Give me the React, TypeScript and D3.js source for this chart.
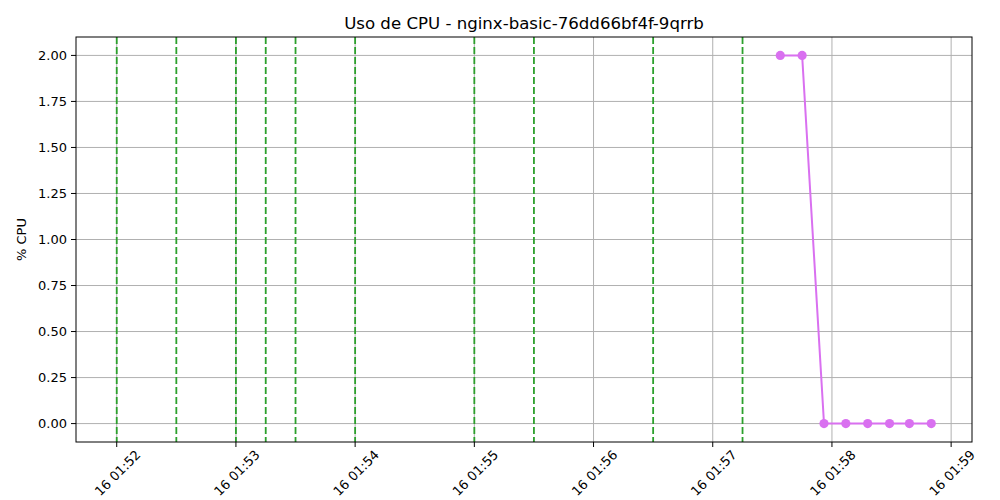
import { useRef, useEffect } from 'react'
import * as d3 from 'd3'

const TITLE = 'Uso de CPU - nginx-basic-76dd66bf4f-9qrrb'
const Y_LABEL = '% CPU'

// sample times (UTC) and CPU values
const TIMES = [
  '2025-01-16T01:57:34Z', '2025-01-16T01:57:45Z', '2025-01-16T01:57:56Z', '2025-01-16T01:58:07Z',
  '2025-01-16T01:58:18Z', '2025-01-16T01:58:29Z', '2025-01-16T01:58:39Z', '2025-01-16T01:58:50Z',
]
const CPU = [2, 2, 0, 0, 0, 0, 0, 0]

// event markers (green dashed lines)
const EVENTS = [
  '2025-01-16T01:52:00Z', '2025-01-16T01:52:30Z', '2025-01-16T01:53:00Z', '2025-01-16T01:53:15Z',
  '2025-01-16T01:53:30Z', '2025-01-16T01:54:00Z', '2025-01-16T01:55:00Z', '2025-01-16T01:55:30Z',
  '2025-01-16T01:56:30Z', '2025-01-16T01:57:15Z',
]

const Y_TICKS = [0, 0.25, 0.5, 0.75, 1, 1.25, 1.5, 1.75, 2]

const LINE_COLOR = '#d970f0'
const EVENT_COLOR = '#2ca02c'
const FONT = 'DejaVu Sans, sans-serif'

export default function App() {
  const svgRef = useRef<SVGSVGElement>(null)

  useEffect(() => {
    const el = svgRef.current
    if (!el) return
    const W = 1000, H = 500
    const pad = { l: 76, r: 28, t: 37, b: 58 }

    const svg = d3.select(el)
    svg.selectAll('*').remove()

    const pts = TIMES.map((t, i) => ({ t: new Date(t), v: CPU[i] }))
    const evs = EVENTS.map(t => new Date(t))
    const all = [...pts.map(p => p.t), ...evs]
    const [t0, t1] = d3.extent(all) as [Date, Date]
    const span = +t1 - +t0
    const x = d3.scaleUtc()
      .domain([new Date(+t0 - span * 0.05), new Date(+t1 + span * 0.05)])
      .range([pad.l, W - pad.r])
    const y = d3.scaleLinear().domain([-0.1, 2.1]).range([H - pad.b, pad.t])

    const xTicks = x.ticks(d3.utcMinute.every(1)!)
    const fmt = d3.utcFormat('%d %H:%M')

    // grid
    svg.append('g').selectAll('line').data(Y_TICKS).join('line')
      .attr('x1', pad.l).attr('x2', W - pad.r)
      .attr('y1', d => y(d)).attr('y2', d => y(d))
      .attr('stroke', '#b0b0b0').attr('stroke-width', 1)
    svg.append('g').selectAll('line').data(xTicks).join('line')
      .attr('x1', d => x(d)).attr('x2', d => x(d))
      .attr('y1', pad.t).attr('y2', H - pad.b)
      .attr('stroke', '#b0b0b0').attr('stroke-width', 1)

    // event lines
    svg.append('g').selectAll('line').data(evs).join('line')
      .attr('x1', d => x(d)).attr('x2', d => x(d))
      .attr('y1', pad.t).attr('y2', H - pad.b)
      .attr('stroke', EVENT_COLOR).attr('stroke-width', 1.8)
      .attr('stroke-dasharray', '7,3')

    // series
    const line = d3.line<{ t: Date; v: number }>().x(d => x(d.t)).y(d => y(d.v))
    svg.append('path').datum(pts)
      .attr('d', line)
      .attr('fill', 'none').attr('stroke', LINE_COLOR).attr('stroke-width', 2)
    svg.append('g').selectAll('circle').data(pts).join('circle')
      .attr('cx', d => x(d.t)).attr('cy', d => y(d.v)).attr('r', 4.6)
      .attr('fill', LINE_COLOR)

    // frame
    svg.append('rect')
      .attr('x', pad.l).attr('y', pad.t)
      .attr('width', W - pad.l - pad.r).attr('height', H - pad.t - pad.b)
      .attr('fill', 'none').attr('stroke', '#000').attr('stroke-width', 1)

    // y ticks
    const yt = svg.append('g')
    yt.selectAll('line').data(Y_TICKS).join('line')
      .attr('x1', pad.l - 5).attr('x2', pad.l)
      .attr('y1', d => y(d)).attr('y2', d => y(d))
      .attr('stroke', '#000')
    yt.selectAll('text').data(Y_TICKS).join('text')
      .attr('x', pad.l - 9).attr('y', d => y(d))
      .attr('text-anchor', 'end').attr('dominant-baseline', 'central')
      .attr('font-size', 13).attr('font-family', FONT).attr('fill', '#000')
      .text(d => d3.format('.2f')(d))

    // x ticks
    const xt = svg.append('g')
    xt.selectAll('line').data(xTicks).join('line')
      .attr('x1', d => x(d)).attr('x2', d => x(d))
      .attr('y1', H - pad.b).attr('y2', H - pad.b + 5)
      .attr('stroke', '#000')
    xt.selectAll('text').data(xTicks).join('text')
      .attr('transform', d => `translate(${x(d) + 1},${H - pad.b + 31}) rotate(-45)`)
      .attr('text-anchor', 'middle').attr('dominant-baseline', 'central')
      .attr('font-size', 13).attr('font-family', FONT).attr('fill', '#000')
      .text(d => fmt(d))

    // labels
    svg.append('text')
      .attr('x', (pad.l + W - pad.r) / 2).attr('y', 23)
      .attr('text-anchor', 'middle').attr('dominant-baseline', 'central')
      .attr('font-size', 16.6).attr('font-family', FONT).attr('fill', '#000')
      .text(TITLE)
    svg.append('text')
      .attr('transform', `translate(21,${(pad.t + H - pad.b) / 2}) rotate(-90)`)
      .attr('text-anchor', 'middle').attr('dominant-baseline', 'central')
      .attr('font-size', 13).attr('font-family', FONT).attr('fill', '#000')
      .text(Y_LABEL)
  }, [])

  return (
    <svg ref={svgRef} width={1000} height={500}
      style={{ position: 'absolute', left: 0, top: 0, background: '#fff' }} />
  )
}
